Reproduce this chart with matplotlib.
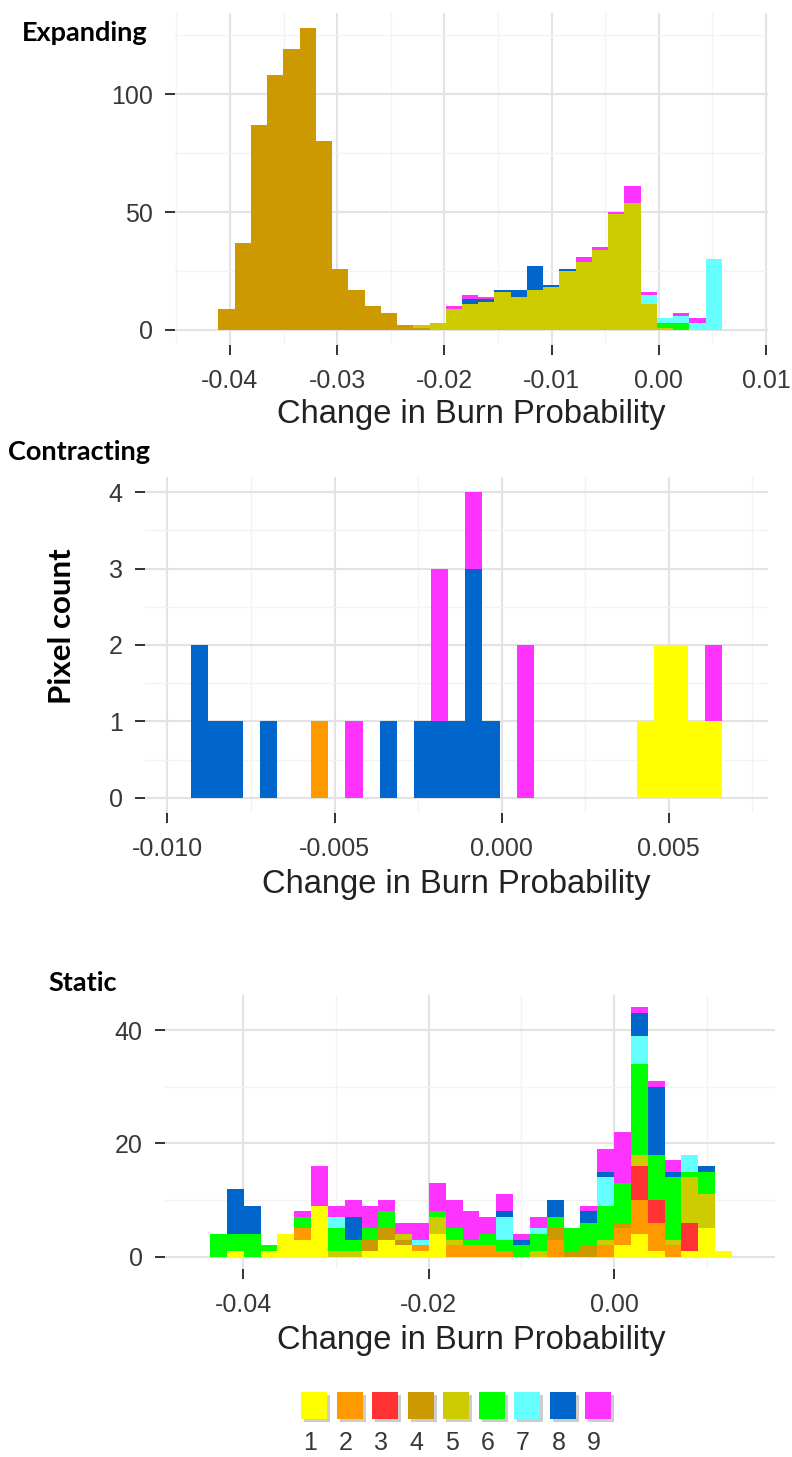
import numpy as np
import matplotlib
matplotlib.use("Agg")
import matplotlib.pyplot as plt
from matplotlib.ticker import FixedLocator

# ---------------- data ----------------
categories = ['1', '2', '3', '4', '5', '6', '7', '8', '9']
category_colors = ['#FFFF00', '#FF9900', '#FF3333', '#CC9900', '#CCCC00',
                   '#00FF00', '#66FFFF', '#0066CC', '#FF33FF']
n_bins = 31

# Expanding: bin start / width (change in burn probability) and counts per category
exp_bin_start = -0.04108
exp_bin_width = 0.001515
exp_counts = {
    '4': [9, 37, 87, 108, 119, 128, 80, 26, 17, 10, 7, 2, 1, 0, 0, 0, 0, 0, 0, 0, 0, 0, 0, 0, 0, 0, 0, 0, 0, 0, 0],
    '5': [0, 0, 0, 0, 0, 0, 0, 0, 0, 0, 0, 0, 1, 3, 9, 11, 12, 16, 14, 17, 18, 25, 29, 34, 49, 54, 11, 1, 0, 0, 0],
    '6': [0, 0, 0, 0, 0, 0, 0, 0, 0, 0, 0, 0, 0, 0, 0, 0, 0, 0, 0, 0, 0, 0, 0, 0, 0, 0, 0, 2, 3, 0, 0],
    '7': [0, 0, 0, 0, 0, 0, 0, 0, 0, 0, 0, 0, 0, 0, 0, 0, 0, 0, 0, 0, 0, 0, 0, 0, 0, 0, 4, 2, 3, 3, 30],
    '8': [0, 0, 0, 0, 0, 0, 0, 0, 0, 0, 0, 0, 0, 0, 0, 2, 1, 1, 3, 10, 1, 1, 0, 0, 0, 0, 0, 0, 0, 0, 0],
    '9': [0, 0, 0, 0, 0, 0, 0, 0, 0, 0, 0, 0, 0, 0, 1, 2, 1, 0, 0, 0, 0, 0, 2, 1, 1, 7, 1, 0, 1, 2, 0],
}
exp_xticks = [-0.04, -0.03, -0.02, -0.01, 0.00, 0.01]
exp_xticklabels = ['-0.04', '-0.03', '-0.02', '-0.01', '0.00', '0.01']
exp_yticks = [0, 50, 100]

# Contracting
con_bin_start = -0.009286
con_bin_width = 0.0005126
con_counts = {
    '1': [0, 0, 0, 0, 0, 0, 0, 0, 0, 0, 0, 0, 0, 0, 0, 0, 0, 0, 0, 0, 0, 0, 0, 0, 0, 0, 1, 2, 2, 1, 1],
    '2': [0, 0, 0, 0, 0, 0, 0, 1, 0, 0, 0, 0, 0, 0, 0, 0, 0, 0, 0, 0, 0, 0, 0, 0, 0, 0, 0, 0, 0, 0, 0],
    '8': [2, 1, 1, 0, 1, 0, 0, 0, 0, 0, 0, 1, 0, 1, 1, 1, 3, 1, 0, 0, 0, 0, 0, 0, 0, 0, 0, 0, 0, 0, 0],
    '9': [0, 0, 0, 0, 0, 0, 0, 0, 0, 1, 0, 0, 0, 0, 2, 0, 1, 0, 0, 2, 0, 0, 0, 0, 0, 0, 0, 0, 0, 0, 1],
}
con_xticks = [-0.010, -0.005, 0.000, 0.005]
con_xticklabels = ['-0.010', '-0.005', '0.000', '0.005']
con_yticks = [0, 1, 2, 3, 4]

# Static
sta_bin_start = -0.04358
sta_bin_width = 0.001816
sta_counts = {
    '1': [0, 1, 0, 1, 4, 3, 9, 0, 0, 1, 3, 2, 1, 4, 0, 0, 0, 0, 0, 0, 0, 0, 0, 0, 2, 4, 1, 0, 1, 5, 1],
    '2': [0, 0, 0, 0, 0, 2, 0, 0, 0, 0, 0, 0, 1, 0, 2, 2, 2, 1, 0, 0, 3, 0, 0, 2, 3, 6, 5, 2, 0, 0, 0],
    '3': [0, 0, 0, 0, 0, 0, 0, 0, 0, 0, 0, 0, 0, 0, 0, 0, 0, 0, 0, 0, 0, 0, 0, 0, 0, 6, 4, 0, 5, 0, 0],
    '4': [0, 0, 0, 0, 0, 0, 0, 0, 0, 2, 2, 1, 0, 0, 0, 0, 0, 0, 0, 0, 2, 1, 2, 0, 1, 0, 0, 0, 0, 0, 0],
    '5': [0, 0, 0, 0, 0, 0, 0, 1, 1, 0, 0, 1, 0, 3, 1, 0, 0, 0, 0, 1, 0, 0, 0, 1, 0, 2, 0, 1, 8, 6, 0],
    '6': [4, 3, 4, 1, 0, 2, 0, 4, 2, 2, 3, 0, 0, 1, 2, 1, 2, 2, 2, 3, 2, 4, 4, 6, 7, 16, 8, 11, 1, 4, 0],
    '7': [0, 0, 0, 0, 0, 0, 0, 2, 0, 0, 0, 0, 1, 0, 0, 0, 0, 4, 0, 1, 0, 0, 0, 5, 0, 5, 0, 0, 3, 0, 0],
    '8': [0, 8, 5, 0, 0, 0, 0, 0, 4, 0, 0, 0, 0, 0, 0, 0, 0, 1, 1, 0, 3, 0, 2, 1, 0, 4, 12, 1, 0, 1, 0],
    '9': [0, 0, 0, 0, 0, 1, 7, 2, 3, 4, 2, 2, 3, 5, 5, 5, 3, 3, 1, 2, 0, 0, 1, 4, 9, 1, 1, 2, 0, 0, 0],
}
sta_xticks = [-0.04, -0.02, 0.00]
sta_xticklabels = ['-0.04', '-0.02', '0.00']
sta_yticks = [0, 20, 40]

# ---------------- figure ----------------
W, H = 792, 1457
fig = plt.figure(figsize=(W / 100, H / 100), dpi=100)
fig.patch.set_facecolor('white')

TICK_TXT = '#383838'
TITLE_TXT = '#222222'
FONT = ['Liberation Sans', 'DejaVu Sans']
BOLD = ['Lato', 'Liberation Sans', 'DejaVu Sans']


def rect(l, t, r, b):
    return [l / W, 1 - b / H, (r - l) / W, (b - t) / H]


def draw_panel(box, start, width, counts, xlim, ylim, xticks, xlabels, xminor,
               yticks, yminor):
    ax = fig.add_axes(rect(*box))
    edges = start + width * np.arange(n_bins)
    bottom = np.zeros(n_bins)
    for cat, col in zip(categories, category_colors):
        if cat not in counts:
            continue
        vals = np.array(counts[cat], dtype=float)
        ax.bar(edges, vals, width=width, bottom=bottom, align='edge',
               color=col, linewidth=0, zorder=3)
        bottom += vals
    ax.set_xlim(*xlim)
    ax.set_ylim(*ylim)
    ax.xaxis.set_major_locator(FixedLocator(xticks))
    ax.set_xticklabels(xlabels)
    ax.xaxis.set_minor_locator(FixedLocator(xminor))
    ax.yaxis.set_major_locator(FixedLocator(yticks))
    ax.yaxis.set_minor_locator(FixedLocator(yminor))
    ax.grid(which='major', color='#E3E3E3', linewidth=1.5, zorder=0)
    ax.grid(which='minor', color='#F3F3F3', linewidth=1.0, zorder=0)
    ax.set_axisbelow(True)
    for s in ax.spines.values():
        s.set_visible(False)
    ax.tick_params(which='major', length=7, width=1.4, color='#333333',
                   labelsize=18, labelcolor=TICK_TXT)
    ax.tick_params(axis='x', which='major', pad=10)
    ax.tick_params(axis='y', which='major', pad=9)
    ax.tick_params(which='minor', length=0)
    for lab in ax.get_xticklabels() + ax.get_yticklabels():
        lab.set_family(FONT)
    return ax


# Expanding
draw_panel((175, 13, 768, 345), exp_bin_start, exp_bin_width, exp_counts,
           (-0.04513, 0.01019), (-6.4, 134.4),
           exp_xticks, exp_xticklabels, [-0.045, -0.035, -0.025, -0.015, -0.005, 0.005],
           exp_yticks, [25, 75, 125])

# Contracting
draw_panel((145, 477, 768, 813), con_bin_start, con_bin_width, con_counts,
           (-0.010672, 0.007973), (-0.2, 4.2),
           con_xticks, con_xticklabels, [-0.0075, -0.0025, 0.0025, 0.0075],
           con_yticks, [0.5, 1.5, 2.5, 3.5])

# Static
draw_panel((165, 995, 775, 1269), sta_bin_start, sta_bin_width, sta_counts,
           (-0.04844, 0.01737), (-2.2, 46.2),
           sta_xticks, sta_xticklabels, [-0.03, -0.01, 0.01],
           sta_yticks, [10, 30])

# axis titles
for xc, yc in ((471, 414), (456, 884), (471, 1340)):
    fig.text(xc / W, 1 - yc / H, 'Change in Burn Probability', ha='center', va='center',
             fontsize=23.5, color=TITLE_TXT, family=FONT)

# panel titles
fig.text(22 / W, 1 - 33 / H, 'Expanding', ha='left', va='center', fontsize=19.5,
         fontweight='bold', color='black', family=BOLD)
fig.text(8 / W, 1 - 452 / H, 'Contracting', ha='left', va='center', fontsize=19.5,
         fontweight='bold', color='black', family=BOLD)
fig.text(48 / W, 1 - 983 / H, 'Static', ha='left', va='center', fontsize=19.5,
         fontweight='bold', color='black', family=BOLD)
fig.text(62 / W, 1 - 626 / H, 'Pixel count', ha='center', va='center', fontsize=22.5,
         fontweight='bold', color='black', family=BOLD, rotation=90)

# legend
leg_ax = fig.add_axes(rect(290, 1385, 630, 1457))
leg_ax.set_xlim(0, 340)
leg_ax.set_ylim(72, 0)
leg_ax.axis('off')
for i, (cat, col) in enumerate(zip(categories, category_colors)):
    x0 = 11 + i * 35.5
    leg_ax.add_patch(plt.Rectangle((x0 + 3, 10), 26, 27, color='#CCCCCC', lw=0))
    leg_ax.add_patch(plt.Rectangle((x0, 7), 26, 27, color=col, lw=0))
    leg_ax.text(x0 + 9, 58, cat, ha='center', va='center', fontsize=18,
                color=TICK_TXT, family=FONT)

fig.savefig('out.png', dpi=100, facecolor='white')
